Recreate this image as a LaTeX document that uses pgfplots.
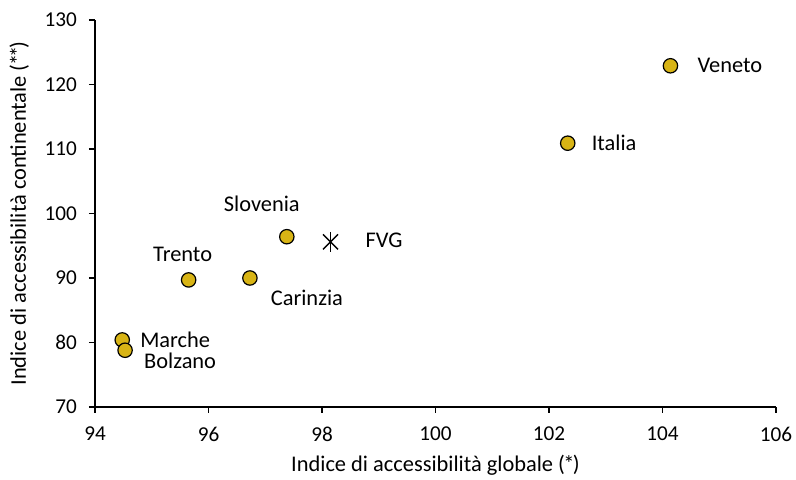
\documentclass[border=0pt]{standalone}
\usepackage{fontspec}
\setmainfont{Carlito}
\usepackage{pgfplots}
\pgfplotsset{compat=1.18}
\definecolor{gold}{HTML}{D8B415}
\begin{document}
\begin{tikzpicture}[font=\fontsize{11.2pt}{13pt}\selectfont]
\useasboundingbox (0,0) rectangle (398pt,240pt);
\begin{axis}[
    at={(47.5pt,36.5pt)}, anchor=south west,
    scale only axis, width=340.5pt, height=193.5pt,
    xmin=94, xmax=106, ymin=70, ymax=130,
    xtick={94,96,...,106}, ytick={70,80,...,130},
    axis x line*=bottom, axis y line*=left,
    axis line style={line width=0.75pt, -},
    tick style={line width=0.75pt, black},
    major tick length=3pt, tick align=outside,
    /pgf/number format/assume math mode=true,
    tick label style={font=\fontsize{10.6pt}{12pt}\selectfont},
    xticklabel style={yshift=-3.5pt}, yticklabel style={xshift=-2.5pt},
    xlabel={Indice di accessibilità globale (\kern-0.8pt*\kern-0.8pt)},
    ylabel={Indice di accessibilità continentale (\kern-0.8pt*\kern-1.6pt*\kern-0.8pt)},
    xlabel style={yshift=0pt}, ylabel style={yshift=1pt},
    clip=false,
]
\addplot[only marks, mark=*, mark size=3.6pt,
    mark options={fill=gold, draw=black, line width=0.6pt}]
    coordinates {(104.14,122.9) (102.33,110.9) (97.38,96.4) (96.73,90.0)
                 (95.65,89.7) (94.48,80.4) (94.53,78.8)};
\addplot[only marks, mark=x, mark size=5.3pt, mark options={line width=0.7pt, black}]
    coordinates {(98.15,95.6)};
\addplot[only marks, mark=|, mark size=5pt, mark options={line width=0.7pt, black}]
    coordinates {(98.15,95.6)};
\node[anchor=west] at (axis cs:104.14,122.9) [xshift=10pt] {Veneto};
\node[anchor=west] at (axis cs:102.33,110.9) [xshift=8.5pt] {Italia};
\node at (axis cs:97.38,96.4) [xshift=-12.5pt, yshift=16.5pt] {Slovenia};
\node[anchor=west] at (axis cs:98.15,95.6) [xshift=14pt, yshift=1pt] {FVG};
\node at (axis cs:95.65,89.7) [xshift=-3pt, yshift=13pt] {Trento};
\node at (axis cs:96.73,90.0) [xshift=28.5pt, yshift=-10pt] {Carinzia};
\node[anchor=west] at (axis cs:94.48,80.4) [xshift=5.5pt] {Marche};
\node[anchor=west] at (axis cs:94.53,78.8) [xshift=6pt, yshift=-5.5pt] {Bolzano};
\end{axis}
\end{tikzpicture}
\end{document}
